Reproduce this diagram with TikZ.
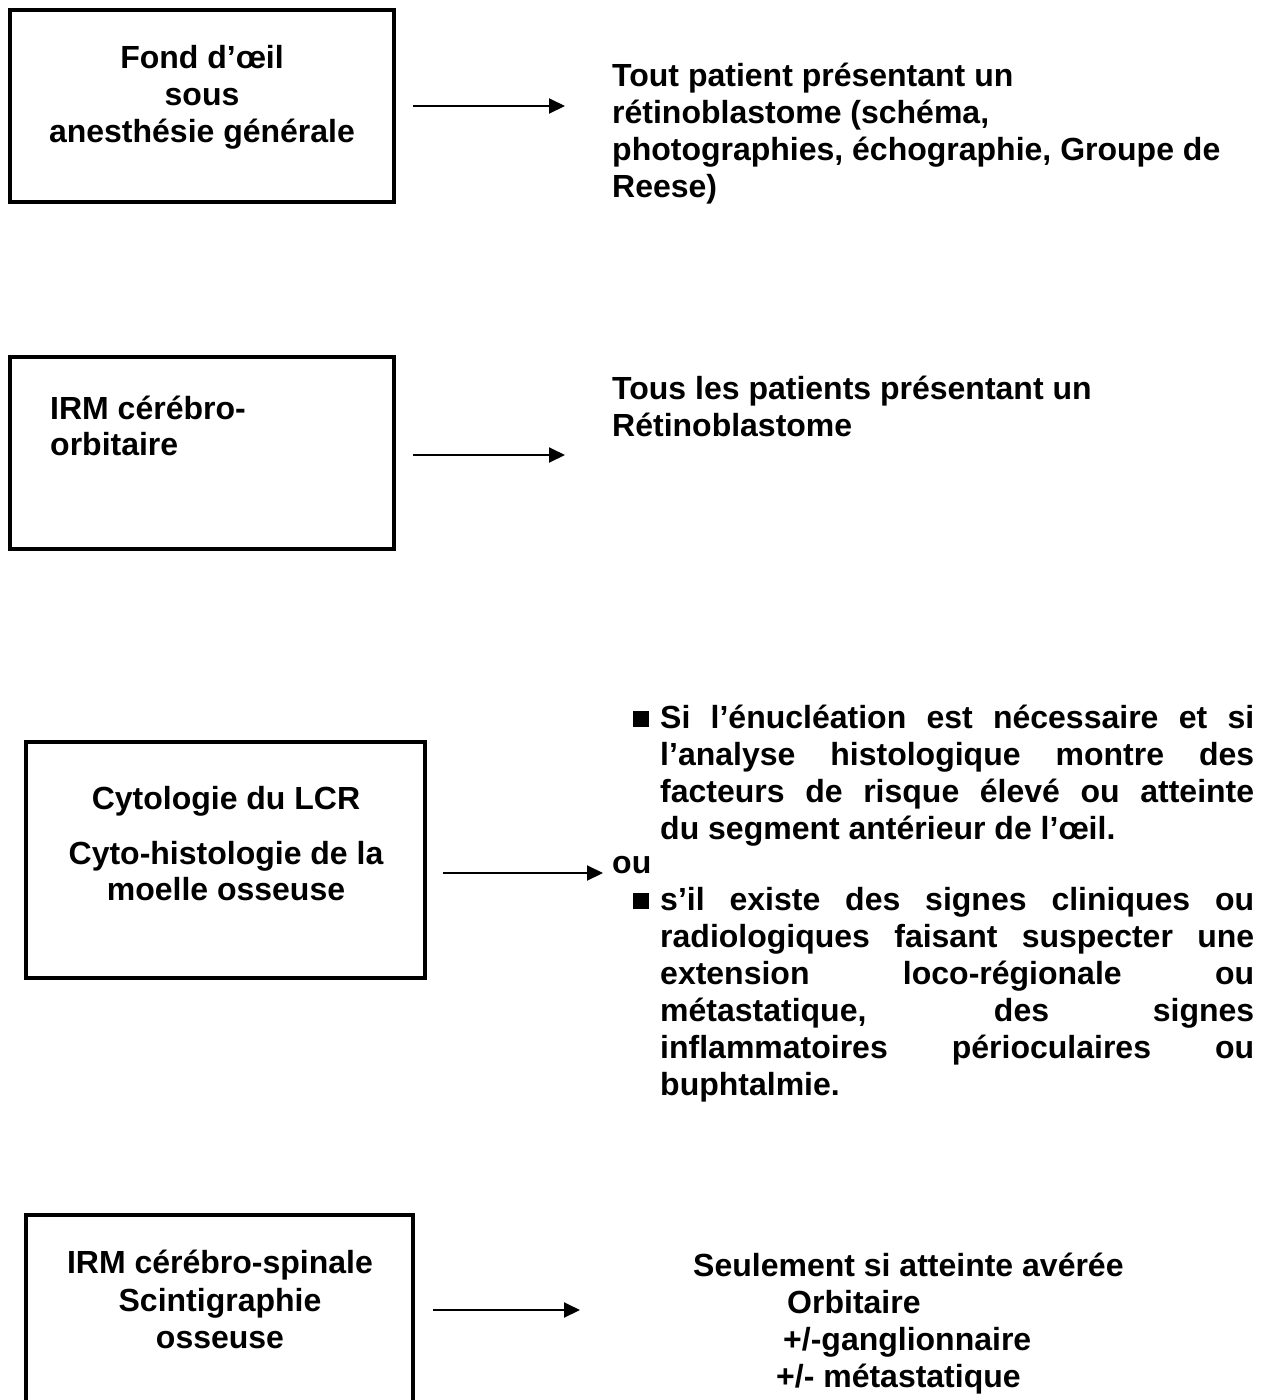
\documentclass[tikz,border=0pt]{standalone}
\usepackage{fontspec}
\setmainfont{Liberation Sans}
\usetikzlibrary{arrows.meta}
\tikzset{
  box/.style={draw, line width=4pt, inner sep=0pt, fill=none},
  txt/.style={inner sep=0pt, font=\fontsize{32}{37}\selectfont\bfseries},
  lft/.style={txt, anchor=base west},
  ctr/.style={txt, anchor=base},
  arr/.style={line width=2pt, -{Triangle[length=16pt,width=15pt]}},
  bullet/.style={fill=black, minimum size=16pt, inner sep=0pt},
}
\newcommand{\jl}[1]{\makebox[594pt][s]{#1}}
\begin{document}
\begin{tikzpicture}[x=1pt,y=-1pt]
\useasboundingbox (0,0) rectangle (1269,1400);
\fill[white] (0,0) rectangle (1269,1400);

% boxes
\node[box, minimum width=384pt, minimum height=192pt] (b1) at (202,106) {};
\node[box, minimum width=384pt, minimum height=192pt] (b2) at (202,453) {};
\node[box, minimum width=399pt, minimum height=236pt] (b3) at (225.5,860) {};
\node[box, minimum width=387pt, minimum height=215pt] (b4) at (219.5,1322.5) {};

% box texts
\node[ctr] (b1a) at (202,68) {Fond d’œil};
\node[ctr] (b1b) at (202,105) {sous};
\node[ctr] (b1c) at (202,142) {anesthésie générale};

\node[lft] (b2a) at (50,419) {IRM cérébro-};
\node[lft] (b2b) at (50,455) {orbitaire};

\node[ctr] (b3a) at (226,809) {Cytologie du LCR};
\node[ctr] (b3b) at (226,864) {Cyto-histologie de la};
\node[ctr] (b3c) at (226,900) {moelle osseuse};

\node[ctr] (b4a) at (220,1273) {IRM cérébro-spinale};
\node[ctr] (b4b) at (220,1311) {Scintigraphie};
\node[ctr] (b4c) at (220,1348) {osseuse};

% right texts
\node[lft] (r1a) at (612,86) {Tout patient présentant un};
\node[lft] (r1b) at (612,123) {rétinoblastome (schéma,};
\node[lft] (r1c) at (612,160) {photographies, échographie, Groupe de};
\node[lft] (r1d) at (612,197) {Reese)};

\node[lft] (r2a) at (612,399) {Tous les patients présentant un};
\node[lft] (r2b) at (612,436) {Rétinoblastome};

\node[bullet] (u1) at (641,719) {};
\node[lft] (r3a) at (660,728) {\jl{Si l’énucléation est nécessaire et si}};
\node[lft] (r3b) at (660,765) {\jl{l’analyse histologique montre des}};
\node[lft] (r3c) at (660,802) {\jl{facteurs de risque élevé ou atteinte}};
\node[lft] (r3d) at (660,839) {du segment antérieur de l’œil.};
\node[lft] (r3ou) at (612,873) {ou};
\node[bullet] (u2) at (641,901) {};
\node[lft] (r3e) at (660,910) {\jl{s’il existe des signes cliniques ou}};
\node[lft] (r3f) at (660,947) {\jl{radiologiques faisant suspecter une}};
\node[lft] (r3g) at (660,984) {\jl{extension loco-régionale ou}};
\node[lft] (r3h) at (660,1021) {\jl{métastatique, des signes}};
\node[lft] (r3i) at (660,1058) {\jl{inflammatoires périoculaires ou}};
\node[lft] (r3j) at (660,1095) {buphtalmie.};

\node[lft] (r4a) at (693,1276) {Seulement si atteinte avérée};
\node[lft] (r4b) at (787,1313) {Orbitaire};
\node[lft] (r4c) at (783,1350) {+/-ganglionnaire};
\node[lft] (r4d) at (776,1387) {+/- métastatique};

% arrows
\draw[arr] ([xshift=17pt,yshift=0pt]b1.east) -- ++(152,0);
\draw[arr] ([xshift=17pt,yshift=-2pt]b2.east) -- ++(152,0);
\draw[arr] ([xshift=16pt,yshift=-13pt]b3.east) -- ++(160,0);
\draw[arr] ([xshift=18pt,yshift=12.5pt]b4.east) -- ++(147,0);
\end{tikzpicture}
\end{document}
